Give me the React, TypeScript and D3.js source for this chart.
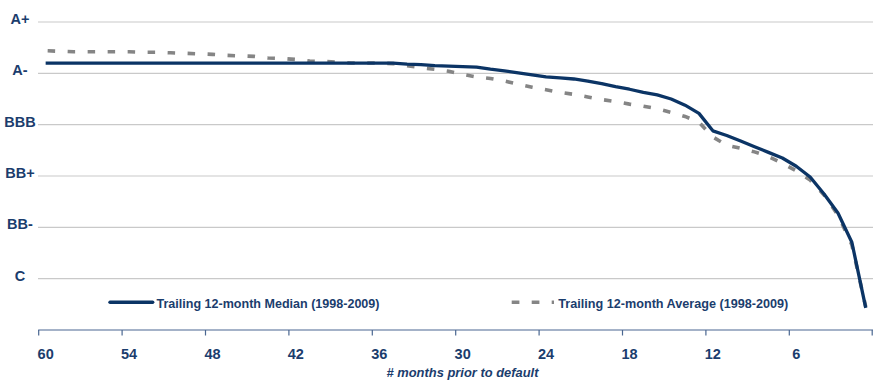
import React from "react";
import * as d3 from "d3";

// Months before default, 60 down to 1
const months: number[] = d3.range(60, 0, -1);

// Rating scale levels (0 = bottom of axis, unlabeled)
const ratingLabels: string[] = ["", "C", "BB-", "BB+", "BBB", "A-", "A+"];

// Month labels shown under the axis
const monthTicks: number[] = [60, 54, 48, 42, 36, 30, 24, 18, 12, 6];

// Trailing 12-month median rating (1998-2009), months 60 → 1
const medianRating: number[] = [
  5.2, 5.2, 5.2, 5.2, 5.2, 5.2, 5.2, 5.2, 5.2, 5.2,
  5.2, 5.2, 5.2, 5.2, 5.2, 5.2, 5.2, 5.2, 5.2, 5.2,
  5.2, 5.2, 5.2, 5.2, 5.2, 5.2, 5.18, 5.17, 5.15, 5.14,
  5.13, 5.12, 5.08, 5.05, 5.01, 4.97, 4.93, 4.91, 4.89, 4.85,
  4.8, 4.74, 4.69, 4.63, 4.58, 4.5, 4.38, 4.22, 3.88, 3.79,
  3.68, 3.57, 3.46, 3.35, 3.19, 2.98, 2.65, 2.28, 1.71, 0.43,
];

// Trailing 12-month average rating (1998-2009), months 60 → 1
const averageRating: number[] = [
  5.44, 5.43, 5.42, 5.42, 5.42, 5.42, 5.42, 5.41, 5.41, 5.4,
  5.39, 5.38, 5.37, 5.35, 5.34, 5.33, 5.3, 5.29, 5.27, 5.24,
  5.23, 5.22, 5.2, 5.2, 5.2, 5.19, 5.15, 5.11, 5.08, 5.04,
  4.98, 4.93, 4.9, 4.85, 4.79, 4.73, 4.68, 4.63, 4.59, 4.54,
  4.49, 4.45, 4.4, 4.36, 4.31, 4.24, 4.16, 4.05, 3.76, 3.6,
  3.54, 3.47, 3.38, 3.25, 3.1, 2.92, 2.63, 2.24, 1.66, 0.45,
];

const seriesNames: string[] = [
  "Trailing 12-month Median (1998-2009)",
  "Trailing 12-month Average (1998-2009)",
];

const xTitle = "# months prior to default";

const W = 873;
const H = 380;
const NAVY = "#0b3465";
const TEXT = "#1b3d6d";
const GREY_LINE = "#858585";

export default function App() {
  const x = d3.scaleBand<number>().domain(months).range([38.7, 872.7]).paddingInner(0).paddingOuter(0);
  const y = d3.scaleLinear().domain([0, 6]).range([330, 22]);
  const cx = (m: number) => (x(m) as number) + x.bandwidth() / 2;

  const line = d3
    .line<number>()
    .x((_, i) => cx(months[i]))
    .y((v) => y(v))
    .curve(d3.curveLinear);

  const tickXs = [...monthTicks.map((m) => x(m) as number), 872.2];
  const font = "'Liberation Sans', Arial, sans-serif";

  return (
    <svg
      width={W}
      height={H}
      style={{ position: "absolute", left: 0, top: 0, background: "#fff" }}
      fontFamily={font}
    >
      {/* horizontal gridlines */}
      {ratingLabels.map((_, i) =>
        i === 0 ? null : (
          <line key={i} x1={38} x2={873} y1={y(i)} y2={y(i)} stroke="#c9c9c9" strokeWidth={1.2} />
        )
      )}

      {/* rating labels */}
      {ratingLabels.map((lab, i) =>
        lab ? (
          <text
            key={lab}
            x={20}
            y={y(i) + 2}
            textAnchor="middle"
            fontSize={14.5}
            fontWeight="bold"
            fill={TEXT}
          >
            {lab}
          </text>
        ) : null
      )}

      {/* category axis */}
      <line x1={38.2} x2={873} y1={330} y2={330} stroke="#4a6791" strokeWidth={1.2} />
      {tickXs.map((tx, i) => (
        <line key={i} x1={tx} x2={tx} y1={330} y2={335.5} stroke="#4a6791" strokeWidth={1.2} />
      ))}
      {monthTicks.map((m) => (
        <text
          key={m}
          x={cx(m)}
          y={358.5}
          textAnchor="middle"
          fontSize={14.5}
          fontWeight="bold"
          fill={TEXT}
        >
          {m}
        </text>
      ))}
      <text
        x={462.5}
        y={377}
        textAnchor="middle"
        fontSize={12}
        fontWeight="bold"
        fontStyle="italic"
        fill={TEXT}
        textLength={152}
        lengthAdjust="spacingAndGlyphs"
      >
        {xTitle}
      </text>

      {/* series */}
      <path
        d={line(averageRating) || ""}
        fill="none"
        stroke={GREY_LINE}
        strokeWidth={3.6}
        strokeDasharray="7.5 12.5"
        strokeDashoffset={-2}
      />
      <path d={line(medianRating) || ""} fill="none" stroke={NAVY} strokeWidth={3.3} strokeLinejoin="round" />

      {/* legend */}
      <line x1={110} x2={152.7} y1={302.3} y2={302.3} stroke={NAVY} strokeWidth={3.4} strokeLinecap="round" />
      <text
        x={156.5}
        y={307.5}
        fontSize={13}
        fontWeight="bold"
        fill={TEXT}
        textLength={223}
        lengthAdjust="spacingAndGlyphs"
      >
        {seriesNames[0]}
      </text>
      <line
        x1={511.7}
        x2={554}
        y1={302.3}
        y2={302.3}
        stroke={GREY_LINE}
        strokeWidth={3.6}
        strokeDasharray="7.7 12.3"
      />
      <text
        x={558.3}
        y={307.5}
        fontSize={13}
        fontWeight="bold"
        fill={TEXT}
        textLength={230}
        lengthAdjust="spacingAndGlyphs"
      >
        {seriesNames[1]}
      </text>
    </svg>
  );
}
